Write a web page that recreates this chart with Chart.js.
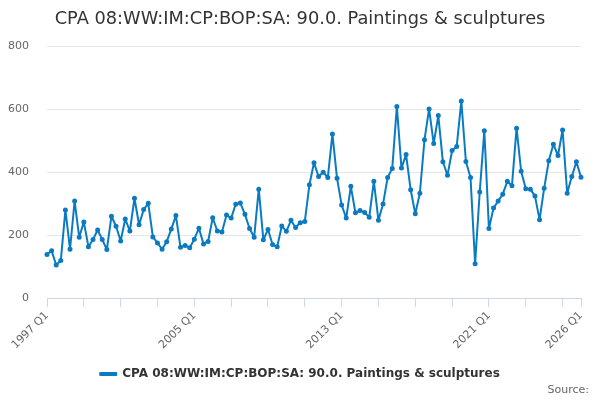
<!DOCTYPE html>
<html>
<head>
<meta charset="utf-8">
<script src="https://cdn.jsdelivr.net/npm/chart.js@4.4.1/dist/chart.umd.min.js"></script>
<style>
  html, body { margin: 0; padding: 0; background: #fff; }
  #wrap { width: 600px; height: 400px; }
</style>
</head>
<body>
<div id="wrap"><canvas id="chart" width="600" height="400"></canvas></div>
<script>
// Quarterly series, 1997 Q1 .. 2026 Q1
const firstYear = 1997
const seriesName = 'CPA 08:WW:IM:CP:BOP:SA: 90.0. Paintings & sculptures'
const values = [
  138, 150, 105, 119, 280, 155, 308, 193, 242, 163, 186, 216, 186, 154, 260, 228,
  181, 251, 213, 317, 233, 281, 301, 194, 175, 155, 179, 219, 262, 161, 167, 160,
  187, 222, 172, 180, 255, 213, 210, 264, 254, 298, 302, 266, 221, 193, 346, 185,
  218, 170, 163, 229, 212, 247, 224, 239, 243, 360, 430, 386, 400, 383, 521, 381,
  296, 254, 355, 271, 278, 272, 257, 371, 247, 299, 383, 412, 609, 413, 456, 344,
  268, 333, 503, 601, 491, 580, 433, 390, 469, 482, 626, 434, 383, 109, 337, 532,
  221, 286, 308, 330, 371, 357, 540, 403, 347, 346, 324, 249, 349, 436, 489, 453,
  534, 333, 386, 433, 384
]
const yTicks = [0, 200, 400, 600, 800]
const labelledQuarters = ['1997 Q1', '2005 Q1', '2013 Q1', '2021 Q1', '2026 Q1']

const labels = values.map((_, i) => `${firstYear + Math.floor(i / 4)} Q${(i % 4) + 1}`)
const lastIndex = labels.length - 1

const lineColor = '#0a7bc1'
const font = 'DejaVu Sans'

const sourcePlugin = {
  id: 'source',
  afterDraw(chart) {
    const ctx = chart.ctx
    ctx.save()
    ctx.font = `11px "${font}"`
    ctx.fillStyle = '#666'
    ctx.textAlign = 'right'
    ctx.textBaseline = 'middle'
    ctx.fillText('Source:', 589, 390)
    ctx.restore()
  }
}

new Chart(document.getElementById('chart'), {
  type: 'line',
  data: {
    labels: labels,
    datasets: [{
      label: seriesName,
      data: values,
      borderColor: lineColor,
      backgroundColor: lineColor,
      borderWidth: 2,
      borderJoinStyle: 'round',
      pointRadius: 1.5,
      pointHoverRadius: 2,
      tension: 0
    }]
  },
  options: {
    responsive: false,
    animation: false,
    layout: { padding: { left: 0, right: 0, top: 7, bottom: 10 } },
    plugins: {
      title: {
        display: true,
        text: seriesName,
        color: '#333',
        font: { family: font, size: 17.8, weight: 'normal' },
        padding: { top: 2, bottom: 16 }
      },
      legend: {
        position: 'bottom',
        labels: {
          color: '#333',
          font: { family: font, size: 12, weight: 'bold' },
          boxWidth: 16,
          boxHeight: 2,
          padding: 8
        }
      },
      tooltip: { enabled: false }
    },
    scales: {
      x: {
        grid: {
          drawOnChartArea: false,
          drawTicks: true,
          tickLength: 9,
          tickColor: '#ccd6eb'
        },
        border: { color: '#ccd6eb' },
        ticks: {
          autoSkip: false,
          maxRotation: 45,
          minRotation: 45,
          color: '#666',
          font: { family: font, size: 11 },
          padding: 2,
          callback: function (value, index) {
            const lab = labels[index]
            if (labelledQuarters.includes(lab)) return lab
            if (index % 8 === 0 || index === lastIndex) return ''
            return null
          }
        },
        afterFit: (scale) => { scale.height = 62 }
      },
      y: {
        min: 0,
        max: 800,
        afterBuildTicks: (scale) => { scale.ticks = yTicks.map(v => ({ value: v })) },
        grid: { color: '#e6e6e6', drawTicks: false },
        border: { display: false },
        ticks: {
          color: '#666',
          font: { family: font, size: 11 },
          padding: 18
        },
        afterFit: (scale) => { scale.width = 47 }
      },
      // empty right-hand spacer so the plot ends where the reference does
      spacer: {
        type: 'linear',
        position: 'right',
        min: 0,
        max: 800,
        grid: { display: false },
        border: { display: false },
        ticks: { display: false },
        afterFit: (scale) => { scale.width = 19 }
      }
    }
  },
  plugins: [sourcePlugin]
})
</script>
</body>
</html>
